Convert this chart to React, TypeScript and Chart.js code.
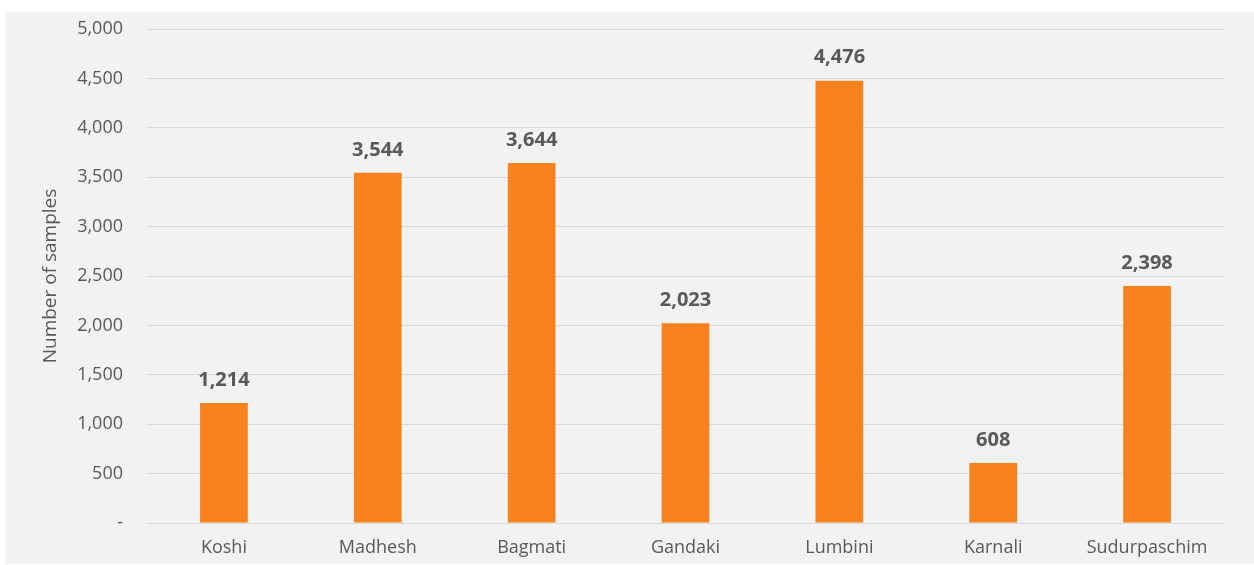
import React, { useEffect, useRef } from "react";
import { Chart, registerables } from "chart.js";

Chart.register(...registerables);

const categories = ["Koshi", "Madhesh", "Bagmati", "Gandaki", "Lumbini", "Karnali", "Sudurpaschim"];
const samples = [1214, 3544, 3644, 2023, 4476, 608, 2398];
const yTicks = [0, 500, 1000, 1500, 2000, 2500, 3000, 3500, 4000, 4500, 5000];

const FONT = "'Open Sans', sans-serif";
const TEXT = "#595959";

const labelPlugin = {
  id: "barLabels",
  afterDatasetsDraw(chart: any) {
    const ctx = chart.ctx;
    const meta = chart.getDatasetMeta(0);
    ctx.save();
    ctx.font = `bold 20px ${FONT}`;
    ctx.fillStyle = TEXT;
    ctx.textAlign = "center";
    ctx.textBaseline = "middle";
    meta.data.forEach((bar: any, i: number) => {
      ctx.fillText(samples[i].toLocaleString("en-US"), bar.x, bar.y - 23);
    });
    ctx.restore();
  },
};

export default function App() {
  const ref = useRef<HTMLCanvasElement>(null);
  useEffect(() => {
    if (!ref.current) return;
    const chart = new Chart(ref.current, {
      type: "bar",
      data: {
        labels: categories,
        datasets: [
          {
            data: samples,
            backgroundColor: "#F8821E",
            barPercentage: 0.62,
            categoryPercentage: 0.5,
          },
        ],
      },
      options: {
        animation: false,
        responsive: false,
        maintainAspectRatio: false,
        layout: { padding: { left: 34, top: 17, right: 30, bottom: 0 } },
        plugins: { legend: { display: false }, tooltip: { enabled: false } },
        scales: {
          x: {
            grid: { display: false, drawTicks: false },
            border: { display: false },
            ticks: { color: TEXT, font: { family: FONT, size: 18 }, padding: 14 },
            afterFit(axis: any) {
              axis.height = 41;
            },
          },
          y: {
            min: 0,
            max: 5000,
            afterBuildTicks(axis: any) {
              axis.ticks = yTicks.map((v) => ({ value: v }));
            },
            grid: {
              color: "#d9d9d9",
              lineWidth: 1,
              drawTicks: true,
              tickLength: 24,
              tickColor: "rgba(0,0,0,0)",
            },
            border: { display: false },
            ticks: {
              color: TEXT,
              font: { family: FONT, size: 18 },
              padding: 0,
              callback: (v: any) => (Number(v) === 0 ? "-" : Number(v).toLocaleString("en-US")),
            },
            title: {
              display: true,
              text: "Number of samples",
              color: TEXT,
              font: { family: FONT, size: 19 },
              padding: { top: 0, bottom: 0 },
            },
            afterFit(axis: any) {
              axis.width = 108;
            },
          },
        },
      },
      plugins: [labelPlugin],
    });
    return () => chart.destroy();
  }, []);
  return (
    <div
      style={{
        position: "absolute",
        left: 5,
        top: 12,
        width: 1249,
        height: 552,
        background: "#f2f2f2",
      }}
    >
      <canvas ref={ref} width={1249} height={552} style={{ display: "block" }} />
    </div>
  );
}
